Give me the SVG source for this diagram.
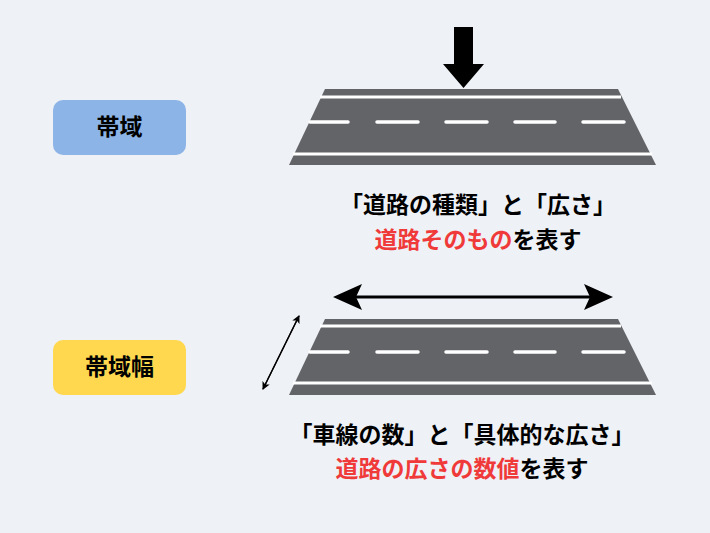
<svg xmlns="http://www.w3.org/2000/svg" width="710" height="533" viewBox="0 0 710 533">
<style>
.road{fill:#636468}.ln{stroke:#fff;stroke-width:3}.ds{stroke:#fff;stroke-width:3.5;stroke-linecap:round}
text{font-family:"Noto Sans CJK JP",sans-serif;font-weight:bold;font-size:23px;text-anchor:middle}
.r{fill:#f03a3a}
</style>
<defs><marker id="ah" markerWidth="8" markerHeight="8" refX="7" refY="4" orient="auto" markerUnits="userSpaceOnUse"><path d="M0,0L8,4L0,8L2,4Z" fill="#000"/></marker></defs>
<rect width="710" height="533" fill="#eef1f6"/>
<g id="label1"><rect x="53" y="100" width="133" height="55" rx="10" fill="#8db4e6"/><text x="119.5" y="135" font-size="20">帯域</text></g>
<g id="label2"><rect x="53" y="340" width="133" height="55" rx="10" fill="#ffd84f"/><text x="119.5" y="375" font-size="20">帯域幅</text></g>
<g id="road1">
<path class="road" d="M325,89H618L656,165H289Z"/>
<line class="ln" x1="320" y1="97" x2="621" y2="97"/><line class="ln" x1="293" y1="154" x2="652" y2="154"/>
<path class="ds" d="M310,122H348M377,122H418M446,122H487M515,122H555M583,122H624"/>
</g>
<g id="road2">
<path class="road" d="M325,319H618L656,395H289Z"/>
<line class="ln" x1="320" y1="326" x2="621" y2="326"/><line class="ln" x1="293" y1="383" x2="652" y2="383"/>
<path class="ds" d="M310,352H348M377,352H418M446,352H487M515,352H555M583,352H624"/>
</g>
<g id="connectors">
<path d="M454,27H473V64H484L463.5,88L443,64H454Z" fill="#000"/>
<line x1="350" y1="297" x2="596" y2="297" stroke="#000" stroke-width="3"/>
<path d="M333,297L362,284L356,297L362,310Z M613,297L584,284L590,297L584,310Z" fill="#000"/>
<line x1="263" y1="389" x2="299" y2="316" stroke="#000" stroke-width="1.3" marker-end="url(#ah)"/>
<line x1="299" y1="316" x2="263" y2="389" stroke="#000" stroke-width="1.3" marker-end="url(#ah)"/>
</g>
<text x="478" y="213">「道路の種類」と「広さ」</text>
<text x="478" y="248"><tspan class="r">道路そのもの</tspan>を表す</text>
<text x="462" y="443">「車線の数」と「具体的な広さ」</text>
<text x="462" y="477"><tspan class="r">道路の広さの数値</tspan>を表す</text>
</svg>
